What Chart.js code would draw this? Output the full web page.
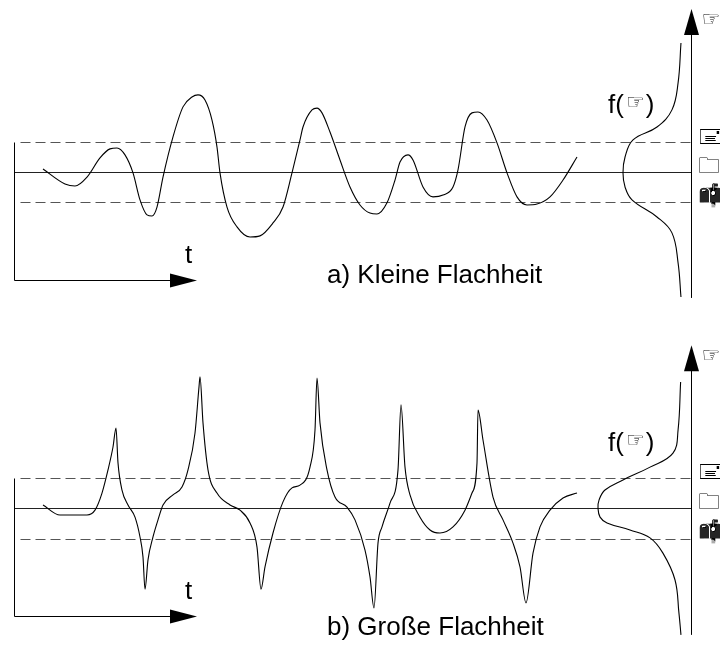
<!DOCTYPE html>
<html>
<head>
<meta charset="utf-8">
<script src="https://cdn.jsdelivr.net/npm/chart.js@4"></script>
<style>
  html, body { margin: 0; padding: 0; background: #fff; }
  #wrap { width: 720px; height: 657px; }
</style>
</head>
<body>
<div id="wrap"><canvas id="chart" width="720" height="657"></canvas></div>
<script>
// a) Kleine Flachheit - signal over time (units of sigma)
const timeA = [4.3, 6.5, 7.5, 8.7, 10.0, 11.0, 11.7, 12.5, 13.3, 14.0, 14.7, 15.2, 15.7, 16.3, 17.3, 18.3, 19.2, 19.8,
  20.5, 21.2, 21.7, 22.0, 22.7, 23.7, 25.0, 26.0, 27.3, 28.3, 29.2, 30.0, 30.3, 31.2, 31.7, 32.2, 33.0, 34.0, 35.0,
  36.0, 37.0, 37.7, 38.7, 39.5, 40.0, 40.8, 41.3, 42.3, 43.3, 44.3, 45.3, 45.8, 46.5, 47.2, 47.8, 48.7, 49.7, 50.7,
  51.7, 52.7, 53.7, 55.0, 56.3, 57.7];
const signalA = [0.10, -0.40, -0.47, -0.17, 0.47, 0.77, 0.80, 0.57, -0.03, -0.93, -1.43, -1.47, -1.17, -0.17, 1.17, 2.17, 2.50, 2.57,
  2.40, 1.73, 0.83, -0.03, -1.17, -1.83, -2.17, -2.13, -1.70, -1.17, -0.03, 1.07, 1.50, 2.07, 2.13, 1.97, 1.33, 0.40, -0.50,
  -1.10, -1.37, -1.40, -1.03, -0.27, 0.33, 0.57, 0.40, -0.50, -0.83, -0.77, -0.50, 0.07, 1.50, 1.97, 2.00, 1.73, 0.97, -0.03,
  -0.83, -1.10, -1.07, -0.83, -0.27, 0.50];

// b) Große Flachheit - peaky signal
const timeB = [4.3, 6.0, 8.7, 9.5, 10.2, 10.8, 11.3, 11.6, 11.8, 12.2, 12.8, 13.5, 14.0, 14.3, 14.5, 14.8, 15.3, 15.8, 16.3,
  17.3, 18.2, 18.8, 19.5, 19.9, 20.0, 20.3, 20.8, 21.7, 23.0, 24.0, 25.0, 25.7, 26.1, 26.5, 27.3, 28.3, 29.2, 30.0, 31.0,
  31.5, 31.7, 32.0, 32.7, 33.5, 34.7, 35.5, 36.5, 37.0, 37.4, 37.8, 38.2, 39.0, 39.8, 40.1, 40.5, 41.0, 42.0, 43.0, 44.0,
  45.3, 46.5, 47.2, 47.7, 47.8, 48.3, 49.3, 50.3, 51.3, 52.0, 52.6, 53.3, 54.0, 55.0, 56.3, 57.7];
const signalB = [0.10, -0.23, -0.23, -0.07, 0.49, 1.25, 2.00, 2.62, 1.48, 0.59, 0.10, -0.30, -0.95, -1.61, -2.66, -1.70, -0.95, -0.39, 0.10,
  0.43, 0.69, 1.25, 2.46, 3.97, 4.30, 2.79, 1.25, 0.49, 0.10, -0.07, -0.49, -1.28, -2.66, -1.93, -0.82, 0.20, 0.66, 0.75, 1.34,
  2.56, 4.26, 2.79, 1.25, 0.36, 0.03, -0.39, -1.38, -2.26, -3.28, -1.15, -0.62, 0.16, 1.25, 3.38, 1.34, 0.43, -0.30, -0.72, -0.82,
  -0.62, -0.07, 0.49, 1.48, 3.21, 2.23, 0.36, -0.39, -1.15, -1.93, -3.11, -1.48, -0.62, -0.07, 0.33, 0.49];

// density f(xi) drawn along the right axis
const xiA = [4.30, 2.97, 2.07, 1.50, 1.07, 0.50, -0.03, -0.50, -0.93, -1.50, -2.03, -3.03, -4.17];
const densityA = [0.059, 0.076, 0.112, 0.200, 0.341, 0.388, 0.400, 0.388, 0.347, 0.200, 0.112, 0.076, 0.059];
const xiB = [4.13, 2.56, 1.80, 1.34, 0.92, 0.59, 0.26, 0.0, -0.30, -0.49, -0.72, -0.98, -1.48, -2.36, -3.44, -4.16];
const densityB = [0.061, 0.076, 0.106, 0.241, 0.400, 0.506, 0.541, 0.547, 0.535, 0.494, 0.359, 0.241, 0.165, 0.094, 0.071, 0.059];

const levels = [1, 0, -1];                 // mean + sigma, mean, mean - sigma
const levelLabels = ['🖃', '🗀', '📫'];
const xiSymbol = '☞';
const titles = ['a) Kleine Flachheit', 'b) Große Flachheit'];

const zip = (xs, ys) => xs.map((v, i) => ({ x: v, y: ys[i] }));
const lineStyle = { borderColor: '#000', borderWidth: 1.1, pointRadius: 0, showLine: true, fill: false };

const FONT = '"Liberation Sans", Arial, sans-serif';
const SYM_FONT = '"DejaVu Sans", sans-serif';

// per panel layout (pixel offsets relative to the mean line)
const panels = [
  { axis: 'yA', axisBottom: -3.6, rightTop: 5.43, rightBottom: -4.2, tDy: 84, titleDy: 104, fDy: -59, symDy: -151 },
  { axis: 'yB', axisBottom: -3.54, rightTop: 5.34, rightBottom: -4.16, tDy: 84, titleDy: 120, fDy: -57, symDy: -151 }
];

const decor = {
  id: 'decor',
  beforeDatasetsDraw(chart) {
    const { ctx, scales } = chart;
    const x = scales.x;
    const axX = Math.round(scales.xd.getPixelForValue(0)) + 0.5;
    const left = Math.round(x.getPixelForValue(1.4)) + 0.5;
    panels.forEach((p, i) => {
      const y = scales[p.axis];
      const y0 = y.getPixelForValue(0);
      ctx.save();
      ctx.lineWidth = 1;

      // mean and +-sigma lines
      levels.forEach(lv => {
        const py = Math.round(y.getPixelForValue(lv)) + 0.5;
        ctx.beginPath();
        ctx.setLineDash(lv === 0 ? [] : [10, 5]);
        ctx.strokeStyle = lv === 0 ? '#222' : '#555';
        ctx.moveTo(lv === 0 ? left : left + 6, py);
        ctx.lineTo(axX, py);
        ctx.stroke();
      });
      ctx.setLineDash([]);

      // left axis and time axis with arrow
      const top = Math.round(y.getPixelForValue(1)) + 0.5;
      const bot = Math.round(y.getPixelForValue(p.axisBottom)) + 0.5;
      const tip = x.getPixelForValue(19.7);
      const base = x.getPixelForValue(17.0);
      ctx.strokeStyle = '#000';
      ctx.beginPath();
      ctx.moveTo(left, top);
      ctx.lineTo(left, bot);
      ctx.lineTo(base, bot);
      ctx.stroke();
      ctx.fillStyle = '#000';
      ctx.beginPath();
      ctx.moveTo(tip, bot);
      ctx.lineTo(base, bot - 7);
      ctx.lineTo(base, bot + 7);
      ctx.closePath();
      ctx.fill();

      // right axis (xi) with arrow
      const rTop = y.getPixelForValue(p.rightTop);
      const rBot = y.getPixelForValue(p.rightBottom);
      ctx.beginPath();
      ctx.moveTo(axX, rTop + 20);
      ctx.lineTo(axX, rBot);
      ctx.stroke();
      ctx.beginPath();
      ctx.moveTo(axX, rTop);
      ctx.lineTo(axX - 7.5, rTop + 26);
      ctx.lineTo(axX + 7.5, rTop + 26);
      ctx.closePath();
      ctx.fill();

      // texts
      ctx.fillStyle = '#000';
      ctx.font = '26px ' + FONT;
      ctx.textBaseline = 'middle';
      ctx.textAlign = 'left';
      ctx.fillText('t', x.getPixelForValue(18.5), y0 + p.tDy);
      ctx.fillText(titles[i], x.getPixelForValue(32.7), y0 + p.titleDy);
      ctx.textBaseline = 'alphabetic';
      ctx.fillText('f(', 608, y0 + p.fDy);
      const fw = ctx.measureText('f(').width;
      ctx.font = '21px ' + SYM_FONT;
      ctx.fillText(xiSymbol, 608 + fw + 2, y0 + p.fDy - 4);
      const sw = ctx.measureText(xiSymbol).width;
      ctx.font = '26px ' + FONT;
      ctx.fillText(')', 608 + fw + sw + 3, y0 + p.fDy);
      ctx.font = '21px ' + SYM_FONT;
      ctx.textBaseline = 'middle';
      ctx.fillText(xiSymbol, axX + 10, y0 + p.symDy);
      ctx.font = '22px ' + SYM_FONT;
      ctx.filter = 'grayscale(1) contrast(4)';
      levels.forEach((lv, k) => {
        ctx.fillText(levelLabels[k], axX + 6, y.getPixelForValue(lv) - 5);
      });
      ctx.filter = 'none';
      ctx.restore();
    });
  }
};

new Chart(document.getElementById('chart'), {
  type: 'scatter',
  data: {
    datasets: [
      { ...lineStyle, label: 'a', data: zip(timeA, signalA), xAxisID: 'x', yAxisID: 'yA', cubicInterpolationMode: 'monotone' },
      { ...lineStyle, label: 'b', data: zip(timeB, signalB), xAxisID: 'x', yAxisID: 'yB', cubicInterpolationMode: 'monotone' },
      { ...lineStyle, label: 'fa', data: zip(densityA, xiA), xAxisID: 'xd', yAxisID: 'yA', tension: 0.4 },
      { ...lineStyle, label: 'fb', data: zip(densityB, xiB), xAxisID: 'xd', yAxisID: 'yB', tension: 0.4 }
    ]
  },
  options: {
    responsive: false,
    animation: false,
    layout: { padding: 0 },
    plugins: { legend: { display: false }, tooltip: { enabled: false } },
    scales: {
      x: { type: 'linear', display: false, min: 0, max: 72 },
      xd: { type: 'linear', display: false, reverse: true, min: -0.1706, max: 4.0647 },
      yA: { type: 'linear', display: false, min: -16.17, max: 5.733 },
      yB: { type: 'linear', display: false, min: -4.885, max: 16.656 }
    }
  },
  plugins: [decor]
});
</script>
</body>
</html>
